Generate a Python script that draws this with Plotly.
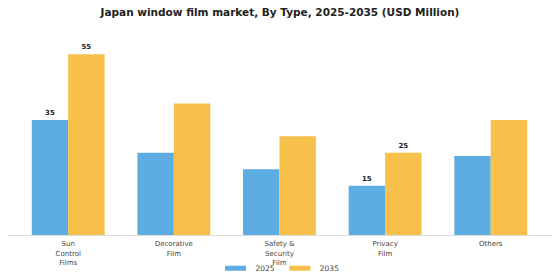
import plotly.graph_objects as go

categories = ["Sun<br>Control<br>Films", "Decorative<br>Film", "Safety &<br>Security<br>Film", "Privacy<br>Film", "Others"]
series_names = ["2025", "2035"]
values_2025 = [35, 25, 20, 15, 24]
values_2035 = [55, 40, 30, 25, 35]
labels_2025 = ["35", "", "", "15", ""]
labels_2035 = ["55", "", "", "25", ""]

BLUE = "#5DADE2"
ORANGE = "#F7C04A"
colors = [BLUE, ORANGE]

fig = go.Figure()
for name, vals, labs, col in zip(series_names, [values_2025, values_2035], [labels_2025, labels_2035], colors):
    fig.add_trace(go.Bar(
        x=list(range(len(categories))), y=vals, name=name, showlegend=False,
        marker=dict(color=col, line=dict(width=0)),
        text=labs, textposition="outside", cliponaxis=False,
        textfont=dict(family="DejaVu Sans", size=7, color="#222222", weight="bold"),
    ))
# legend-only entries with wide, thin swatches
for name, col in zip(series_names, colors):
    fig.add_trace(go.Scatter(
        x=[None], y=[None], name=name, mode="markers",
        marker=dict(symbol="line-ew", size=15, color=col, line=dict(color=col, width=5)),
    ))

fig.update_layout(
    width=560, height=280,
    margin=dict(l=8, r=8, t=40, b=45, autoexpand=False),
    paper_bgcolor="white", plot_bgcolor="white",
    barmode="group", bargap=0.31, bargroupgap=0,
    title=dict(text="<b>Japan window film market, By Type, 2025-2035 (USD Million)</b>",
               x=0.5, xanchor="center", y=1 - 12 / 280, yanchor="middle",
               font=dict(family="DejaVu Sans", size=10.5, color="#222222")),
    showlegend=True,
    legend=dict(orientation="h", x=0.5, xanchor="center", y=-0.17, yanchor="middle",
                font=dict(family="DejaVu Sans", size=7.5, color="#444444"),
                bgcolor="rgba(0,0,0,0)", itemwidth=30),
    font=dict(family="DejaVu Sans"),
)
fig.update_xaxes(
    tickmode="array", tickvals=list(range(len(categories))), ticktext=categories,
    range=[-0.57, 4.58], showline=True, linecolor="#dddddd", linewidth=1,
    showgrid=False, zeroline=False, ticks="", automargin=False, ticklabelstandoff=2,
    tickfont=dict(family="DejaVu Sans", size=7, color="#444444"),
)
fig.update_yaxes(range=[0, 59.3], visible=False, showgrid=False, zeroline=False)

fig.write_html("out.html")
